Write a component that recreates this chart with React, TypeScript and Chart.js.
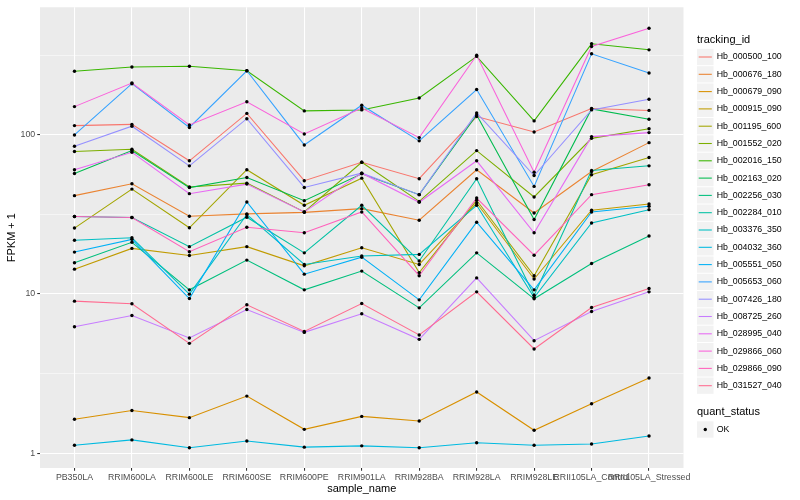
import React, { useEffect, useRef } from "react";
import { Chart, registerables } from "chart.js";

Chart.register(...registerables);

// ---- data ----
const categories = [
  "PB350LA", "RRIM600LA", "RRIM600LE", "RRIM600SE", "RRIM600PE", "RRIM901LA",
  "RRIM928BA", "RRIM928LA", "RRIM928LE", "RRII105LA_Control", "RRII105LA_Stressed",
];

const trackingIds = [
  "Hb_000500_100", "Hb_000676_180", "Hb_000679_090", "Hb_000915_090", "Hb_001195_600",
  "Hb_001552_020", "Hb_002016_150", "Hb_002163_020", "Hb_002256_030", "Hb_002284_010",
  "Hb_003376_350", "Hb_004032_360", "Hb_005551_050", "Hb_005653_060", "Hb_007426_180",
  "Hb_008725_260", "Hb_028995_040", "Hb_029866_060", "Hb_029866_090", "Hb_031527_040",
];

const palette = [
  "#F8766D", "#EA8331", "#D89000", "#C09B00", "#A3A500", "#7CAE00", "#39B600", "#00BB4E",
  "#00BF7D", "#00C1A3", "#00BFC4", "#00BAE0", "#00B0F6", "#35A2FF", "#9590FF", "#C77CFF",
  "#E76BF3", "#FA62DB", "#FF62BC", "#FF6C91",
];

const hb000500_100 = [114, 116, 68.5, 136, 51.4, 67.1, 52.9, 130, 104, 146, 142];
const hb000676_180 = [41.4, 49.2, 30.7, 31.8, 32.5, 34.3, 29.0, 60.2, 32.2, 58.7, 89.1];
const hb000679_090 = [1.63, 1.85, 1.67, 2.28, 1.41, 1.7, 1.59, 2.42, 1.39, 2.04, 2.96];
const hb000915_090 = [14.3, 19.3, 17.4, 19.8, 15.0, 19.5, 15.3, 37.2, 12.4, 33.5, 36.7];
const hb001195_600 = [25.9, 45.5, 26.0, 60.2, 36.0, 53.3, 13.6, 38.7, 13.0, 56.0, 71.8];
const hb001552_020 = [78.3, 81.0, 46.9, 49.6, 32.7, 67.1, 38.1, 79.4, 40.6, 94.8, 109];
const hb002016_150 = [250, 266, 269, 252, 141, 143, 170, 310, 122, 372, 341];
const hb002163_020 = [57.0, 79.4, 46.5, 53.8, 38.5, 56.8, 42.0, 133, 29.3, 145, 125];
const hb002256_030 = [15.7, 21.1, 10.6, 16.3, 10.6, 13.9, 8.17, 18.1, 9.31, 15.5, 23.1];
const hb002284_010 = [30.6, 30.2, 19.8, 30.3, 18.1, 36.0, 16.1, 52.9, 9.81, 59.6, 63.7];
const hb003376_350 = [21.7, 22.5, 9.96, 31.5, 15.3, 17.3, 17.7, 36.0, 9.48, 27.9, 33.8];
const hb004032_360 = [1.12, 1.21, 1.08, 1.19, 1.09, 1.11, 1.08, 1.16, 1.12, 1.14, 1.28];
const hb005551_050 = [18.3, 22.0, 9.35, 37.8, 13.3, 17.0, 9.17, 28.2, 10.6, 32.7, 35.5];
const hb005653_060 = [99.6, 209, 111, 252, 86.2, 153, 91.4, 192, 47.3, 322, 244];
const hb007426_180 = [84.5, 113, 63.7, 126, 46.6, 57.3, 42.0, 137, 55.4, 143, 167];
const hb008725_260 = [6.22, 7.32, 5.28, 7.98, 5.73, 7.5, 5.18, 12.6, 5.08, 7.75, 10.3];
const hb028995_040 = [60.2, 77.5, 42.6, 48.9, 32.7, 57.3, 37.6, 68.5, 24.2, 97.2, 103];
const hb029866_060 = [150, 211, 115, 161, 101, 147, 95.8, 315, 58.0, 358, 466];
const hb029866_090 = [30.6, 30.2, 18.4, 26.2, 24.2, 32.7, 13.0, 40.0, 17.5, 42.0, 48.5];
const hb031527_040 = [9.0, 8.66, 4.89, 8.54, 5.81, 8.7, 5.52, 10.3, 4.51, 8.21, 10.8];

const seriesValues = [
  hb000500_100, hb000676_180, hb000679_090, hb000915_090, hb001195_600,
  hb001552_020, hb002016_150, hb002163_020, hb002256_030, hb002284_010,
  hb003376_350, hb004032_360, hb005551_050, hb005653_060, hb007426_180,
  hb008725_260, hb028995_040, hb029866_060, hb029866_090, hb031527_040,
];

const yMajorTicks = [1, 10, 100];
const yMinorTicks = [3.1623, 31.623, 316.23];
const quantStatus = ["OK"];

const FONT = "'Liberation Sans', Arial, Helvetica, sans-serif";

export default function App() {
  const ref = useRef<HTMLCanvasElement>(null);

  useEffect(() => {
    if (!ref.current) return;

    const panelBg = {
      id: "panelBg",
      beforeDraw(chart: any) {
        const { ctx, chartArea } = chart;
        ctx.save();
        ctx.fillStyle = "#EBEBEB";
        ctx.fillRect(chartArea.left, chartArea.top, chartArea.right - chartArea.left, chartArea.bottom - chartArea.top);
        ctx.restore();
      },
    };

    const ggLegend = {
      id: "ggLegend",
      afterDraw(chart: any) {
        const ctx = chart.ctx as CanvasRenderingContext2D;
        const kx = 697;
        const ks = 17.3;
        ctx.save();
        ctx.textBaseline = "middle";
        ctx.textAlign = "left";
        ctx.fillStyle = "#000";
        ctx.font = `11px ${FONT}`;
        ctx.fillText("tracking_id", kx, 40);
        trackingIds.forEach((id, i) => {
          const cy = 57 + i * ks;
          ctx.fillStyle = "#F2F2F2";
          ctx.fillRect(kx, cy - ks / 2 + 0.5, ks - 0.8, ks - 1);
          ctx.strokeStyle = palette[i];
          ctx.lineWidth = 1.07;
          ctx.beginPath();
          ctx.moveTo(kx + 1.7, cy);
          ctx.lineTo(kx + 14.8, cy);
          ctx.stroke();
          ctx.fillStyle = "#000";
          ctx.font = `8.8px ${FONT}`;
          ctx.fillText(id, 716.7, cy);
        });
        ctx.font = `11px ${FONT}`;
        ctx.fillStyle = "#000";
        ctx.fillText("quant_status", kx, 412);
        quantStatus.forEach((s, i) => {
          const cy = 429.5 + i * ks;
          ctx.fillStyle = "#F2F2F2";
          ctx.fillRect(kx, cy - ks / 2 + 0.5, ks - 0.8, ks - 1);
          ctx.fillStyle = "#000";
          ctx.beginPath();
          ctx.arc(kx + 8.3, cy, 1.7, 0, Math.PI * 2);
          ctx.fill();
          ctx.font = `8.8px ${FONT}`;
          ctx.fillText(s, 716.7, cy);
        });
        ctx.restore();
      },
    };

    const lineSets = seriesValues.map((vals, i) => ({
      label: trackingIds[i],
      data: vals.map((v, j) => ({ x: j, y: v })),
      borderColor: palette[i],
      backgroundColor: palette[i],
      borderWidth: 1.07,
      pointRadius: 0,
      fill: false,
      tension: 0,
      order: 100 - i,
    }));

    const pointSets = seriesValues.map((vals, i) => ({
      label: trackingIds[i] + " " + quantStatus[0],
      data: vals.map((v, j) => ({ x: j, y: v })),
      showLine: false,
      pointRadius: 1.7,
      pointBackgroundColor: "#000000",
      pointBorderWidth: 0,
      pointBorderColor: "#000000",
      order: 0,
    }));

    const isMajor = (v: number) => yMajorTicks.some((t) => Math.abs(t - v) < 1e-6);

    const chart = new Chart(ref.current, {
      type: "line",
      data: { datasets: [...lineSets, ...pointSets] as any },
      options: {
        animation: false,
        responsive: false,
        events: [],
        layout: { padding: { top: 5, right: 116.5, bottom: 0, left: 0 } },
        plugins: {
          legend: { display: false },
          tooltip: { enabled: false },
        },
        scales: {
          x: {
            type: "linear",
            min: -0.6,
            max: 10.6,
            afterBuildTicks: (s: any) => {
              s.ticks = categories.map((_, i) => ({ value: i }));
            },
            afterFit: (s: any) => {
              s.height = 32;
            },
            ticks: {
              autoSkip: false,
              maxRotation: 0,
              minRotation: 0,
              color: "#4D4D4D",
              font: { family: FONT, size: 8.8 },
              padding: 1.5,
              callback: (v: any) => categories[Math.round(Number(v))] ?? "",
            },
            grid: {
              color: "#FFFFFF",
              lineWidth: 1.07,
              drawTicks: true,
              tickLength: 2.75,
              tickColor: "#333333",
              tickWidth: 1.07,
            },
            border: { display: false },
            title: {
              display: true,
              text: "sample_name",
              color: "#000000",
              font: { family: FONT, size: 11 },
              padding: { top: 0, bottom: 4.4 },
            },
          },
          y: {
            type: "logarithmic",
            min: 0.806,
            max: 631,
            afterBuildTicks: (s: any) => {
              s.ticks = [...yMajorTicks, ...yMinorTicks]
                .sort((a, b) => a - b)
                .map((v) => ({ value: v }));
            },
            afterFit: (s: any) => {
              s.width = 40;
            },
            ticks: {
              autoSkip: false,
              color: "#4D4D4D",
              font: { family: FONT, size: 8.8 },
              padding: 2,
              callback: (v: any) => (isMajor(Number(v)) ? String(Math.round(Number(v))) : ""),
            },
            grid: {
              color: "#FFFFFF",
              lineWidth: (c: any) => (c.tick && isMajor(c.tick.value) ? 1.07 : 0.53),
              drawTicks: true,
              tickLength: 2.75,
              tickColor: (c: any) => (c.tick && isMajor(c.tick.value) ? "#333333" : "rgba(0,0,0,0)"),
              tickWidth: 1.07,
            },
            border: { display: false },
            title: {
              display: true,
              text: "FPKM + 1",
              color: "#000000",
              font: { family: FONT, size: 11 },
              padding: { top: 5, bottom: 0 },
            },
          },
        },
      } as any,
      plugins: [panelBg, ggLegend],
    });

    return () => chart.destroy();
  }, []);

  return (
    <div style={{ position: "absolute", left: 0, top: 0, width: 800, height: 500, background: "#FFFFFF" }}>
      <canvas ref={ref} width={800} height={500} style={{ display: "block", width: 800, height: 500 }} />
    </div>
  );
}
